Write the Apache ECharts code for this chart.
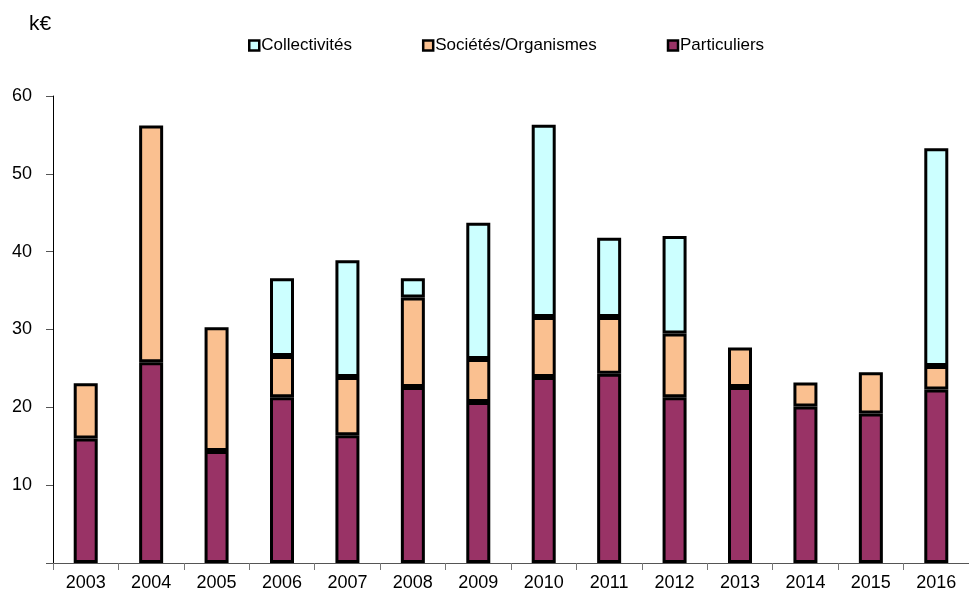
<!DOCTYPE html>
<html>
<head>
<meta charset="utf-8">
<script src="https://cdn.jsdelivr.net/npm/echarts@6/dist/echarts.min.js"></script>
<style>html,body{margin:0;padding:0;background:#fff}#c{width:969px;height:604px}</style>
</head>
<body>
<div id="c"></div>
<script>
var years = ['2003','2004','2005','2006','2007','2008','2009','2010','2011','2012','2013','2014','2015','2016'];
var particuliers = [16.0, 25.8, 14.4, 21.3, 16.4, 22.6, 20.7, 23.9, 24.3, 21.3, 22.6, 20.1, 19.2, 22.3];
var societes = [7.1, 30.4, 15.9, 5.3, 7.5, 11.5, 5.5, 7.7, 7.3, 8.2, 5.1, 3.1, 5.3, 3.0];
var collectivites = [0, 0, 0, 10.0, 15.0, 2.5, 17.5, 24.7, 10.2, 12.5, 0, 0, 0, 28.0];
var yTicks = [0, 10, 20, 30, 40, 50, 60];

function clean(a){ return a.map(function(v){ return v === 0 ? null : v; }); }

var chart = echarts.init(document.getElementById('c'));
var font = 'Liberation Sans, Arial, sans-serif';
function mk(name, data, color){
  return {
    name: name, type: 'bar', stack: 'total', data: clean(data),
    barWidth: 24,
    itemStyle: { color: color, borderColor: '#000', borderWidth: 3 },
    emphasis: { disabled: true }
  };
}
chart.setOption({
  animation: false,
  textStyle: { fontFamily: font },
  graphic: [{ type: 'text', left: 29, top: 14, style: { text: 'k€', font: '21px ' + font, fill: '#000' } }],
  legend: {
    data: ['Collectivités', 'Sociétés/Organismes', 'Particuliers'],
    left: 243, top: 32,
    itemWidth: 10, itemHeight: 10, itemGap: 70,
    icon: 'rect',
    textStyle: { fontSize: 17, color: '#000', fontFamily: font, padding: [0,0,0,-3] },
    itemStyle: { borderColor: '#000', borderWidth: 2.5 }
  },
  grid: { left: 53, right: -8, top: 96, bottom: 41, containLabel: false },
  xAxis: {
    type: 'category', data: years,
    axisLine: { lineStyle: { color: '#555', width: 1 } },
    axisTick: { show: true, length: 7, lineStyle: { color: '#777' } },
    axisLabel: { color: '#000', fontSize: 18, margin: 11, fontFamily: font }
  },
  yAxis: {
    type: 'value', min: yTicks[0], max: yTicks[yTicks.length-1], interval: 10,
    axisLine: { show: true, lineStyle: { color: '#000', width: 1 } },
    axisTick: { show: true, length: 7, lineStyle: { color: '#555' } },
    splitLine: { show: false },
    axisLabel: { color: '#000', fontSize: 18, margin: 21, fontFamily: font,
      formatter: function(v){ return v === 0 ? '' : String(v); } }
  },
  series: [
    mk('Particuliers', particuliers, '#993366'),
    mk('Sociétés/Organismes', societes, '#FAC090'),
    mk('Collectivités', collectivites, '#CCFFFF')
  ]
});
</script>
</body>
</html>
